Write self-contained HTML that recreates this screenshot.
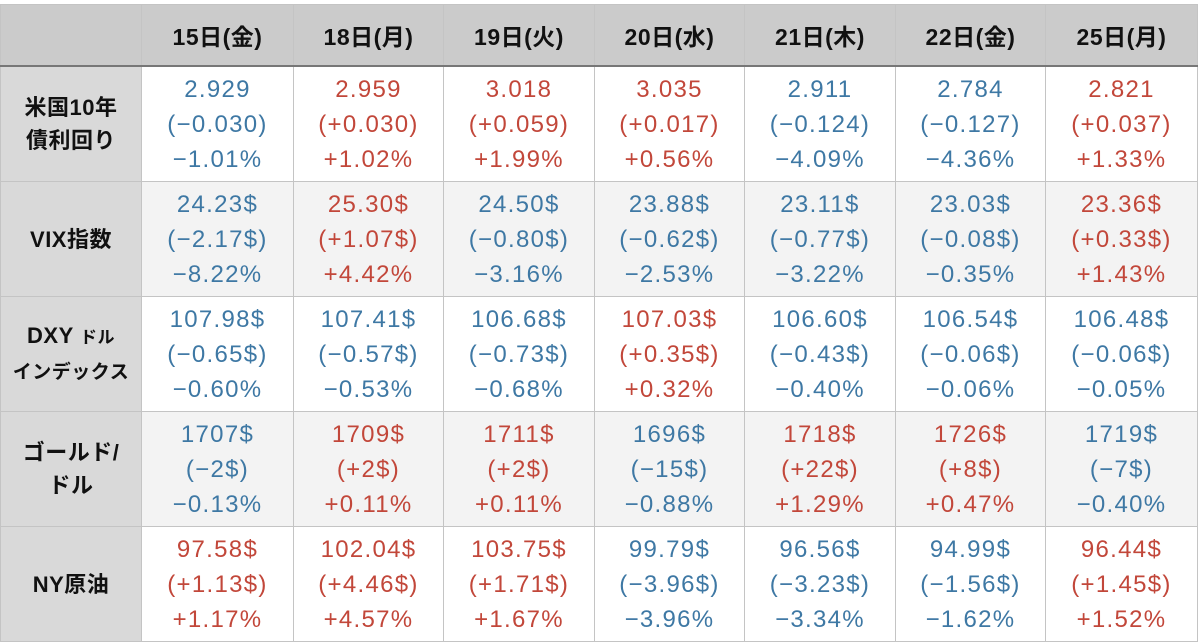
<!DOCTYPE html>
<html><head><meta charset="utf-8"><style>
body{margin:0;width:1200px;height:642px;background:#fff;font-family:"Liberation Sans","Noto Sans CJK JP",sans-serif;overflow:hidden}
table{position:absolute;left:0;top:4px;border-collapse:collapse;table-layout:fixed;width:1197px}
td,th{border:1px solid #c4c4c4;text-align:center;padding:0}
th{background:#cbcbcb;height:60px;font-size:23px;color:#111;font-weight:bold;border-bottom:2px solid #777;letter-spacing:0.5px}
td.l{background:#d9d9d9;font-weight:bold;font-size:22px;color:#111;line-height:33px;letter-spacing:0.5px}
td{height:114px;font-size:24px;line-height:35px;letter-spacing:1.3px}
tr.g td{background:#f3f3f3}
tr.g td.l{background:#d9d9d9}
.b{color:#3e78a4}.r{color:#c2473a}
</style></head><body>
<table>
<colgroup><col style="width:141px"><col style="width:152px"><col style="width:150px"><col style="width:151px"><col style="width:150px"><col style="width:151px"><col style="width:150px"><col style="width:152px"></colgroup>
<tr><th></th><th>15日(金)</th><th>18日(月)</th><th>19日(火)</th><th>20日(水)</th><th>21日(木)</th><th>22日(金)</th><th>25日(月)</th></tr>
<tr><td class="l">米国10年<br>債利回り</td>
<td class="b">2.929<br>(−0.030)<br>−1.01%</td><td class="r">2.959<br>(+0.030)<br>+1.02%</td><td class="r">3.018<br>(+0.059)<br>+1.99%</td><td class="r">3.035<br>(+0.017)<br>+0.56%</td><td class="b">2.911<br>(−0.124)<br>−4.09%</td><td class="b">2.784<br>(−0.127)<br>−4.36%</td><td class="r">2.821<br>(+0.037)<br>+1.33%</td></tr>
<tr class="g"><td class="l">VIX指数</td>
<td class="b">24.23$<br>(−2.17$)<br>−8.22%</td><td class="r">25.30$<br>(+1.07$)<br>+4.42%</td><td class="b">24.50$<br>(−0.80$)<br>−3.16%</td><td class="b">23.88$<br>(−0.62$)<br>−2.53%</td><td class="b">23.11$<br>(−0.77$)<br>−3.22%</td><td class="b">23.03$<br>(−0.08$)<br>−0.35%</td><td class="r">23.36$<br>(+0.33$)<br>+1.43%</td></tr>
<tr><td class="l">DXY <span style="font-size:17px">ドル</span><br><span style="font-size:19px">インデックス</span></td>
<td class="b">107.98$<br>(−0.65$)<br>−0.60%</td><td class="b">107.41$<br>(−0.57$)<br>−0.53%</td><td class="b">106.68$<br>(−0.73$)<br>−0.68%</td><td class="r">107.03$<br>(+0.35$)<br>+0.32%</td><td class="b">106.60$<br>(−0.43$)<br>−0.40%</td><td class="b">106.54$<br>(−0.06$)<br>−0.06%</td><td class="b">106.48$<br>(−0.06$)<br>−0.05%</td></tr>
<tr class="g"><td class="l">ゴールド/<br>ドル</td>
<td class="b">1707$<br>(−2$)<br>−0.13%</td><td class="r">1709$<br>(+2$)<br>+0.11%</td><td class="r">1711$<br>(+2$)<br>+0.11%</td><td class="b">1696$<br>(−15$)<br>−0.88%</td><td class="r">1718$<br>(+22$)<br>+1.29%</td><td class="r">1726$<br>(+8$)<br>+0.47%</td><td class="b">1719$<br>(−7$)<br>−0.40%</td></tr>
<tr><td class="l">NY原油</td>
<td class="r">97.58$<br>(+1.13$)<br>+1.17%</td><td class="r">102.04$<br>(+4.46$)<br>+4.57%</td><td class="r">103.75$<br>(+1.71$)<br>+1.67%</td><td class="b">99.79$<br>(−3.96$)<br>−3.96%</td><td class="b">96.56$<br>(−3.23$)<br>−3.34%</td><td class="b">94.99$<br>(−1.56$)<br>−1.62%</td><td class="r">96.44$<br>(+1.45$)<br>+1.52%</td></tr>
</table>
</body></html>
